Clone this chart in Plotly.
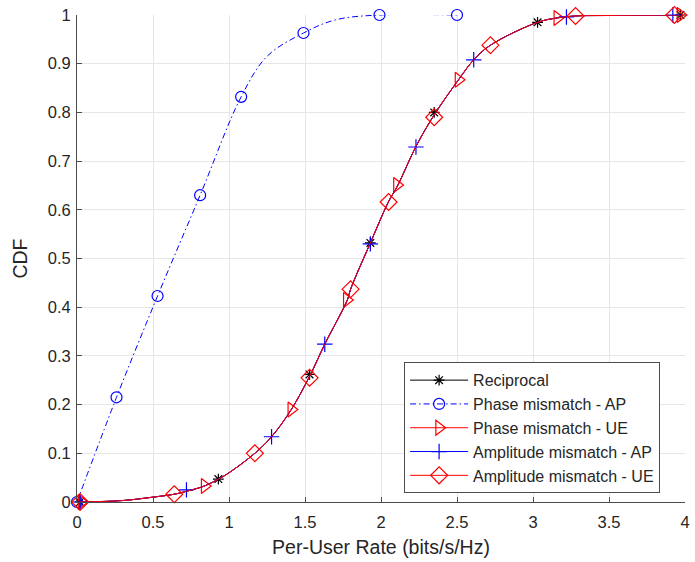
import plotly.graph_objects as go

# ---------------- data ----------------
# shared CDF curve
curve_rate = [0.02, 0.30, 0.50, 0.64, 0.72, 0.84, 0.93, 1.00, 1.17, 1.28, 1.41, 1.53,
              1.63, 1.78, 1.80, 1.93, 2.05, 2.11, 2.23, 2.35, 2.51, 2.61, 2.72, 3.03,
              3.16, 3.28, 3.50, 3.97]
curve_cdf = [0.000, 0.003, 0.010, 0.016, 0.022, 0.033, 0.047, 0.060, 0.100, 0.134, 0.190, 0.258,
             0.324, 0.416, 0.437, 0.532, 0.617, 0.650, 0.730, 0.795, 0.867, 0.908, 0.938, 0.985,
             0.994, 0.998, 0.999, 1.000]

# Phase mismatch - AP (dash-dot curve)
pap_rate = [0.00, 0.26, 0.53, 0.81, 1.08, 1.25, 1.49, 1.70, 1.99, 2.50]
pap_cdf = [0.000, 0.215, 0.423, 0.630, 0.832, 0.915, 0.963, 0.990, 1.000, 1.000]
pap_mark_rate = [0.00, 0.26, 0.53, 0.81, 1.08, 1.49, 1.99, 2.50]
pap_mark_cdf = [0.000, 0.215, 0.423, 0.630, 0.832, 0.963, 1.000, 1.000]

# markers of the other series
rec_rate = [0.02, 0.93, 1.53, 1.93, 2.35, 3.03, 3.97]
rec_cdf = [0.000, 0.047, 0.262, 0.532, 0.800, 0.985, 1.000]

pue_rate = [0.03, 0.84, 1.41, 1.775, 2.105, 2.51, 3.16, 3.97]
pue_cdf = [0.000, 0.033, 0.190, 0.415, 0.651, 0.867, 0.994, 1.000]

aap_rate = [0.02, 0.72, 1.28, 1.63, 1.93, 2.23, 2.61, 3.22, 3.92]
aap_cdf = [0.000, 0.025, 0.134, 0.324, 0.530, 0.729, 0.908, 0.996, 1.000]

aue_rate = [0.02, 0.64, 1.17, 1.53, 1.80, 2.05, 2.35, 2.72, 3.28, 3.93]
aue_cdf = [0.000, 0.016, 0.100, 0.255, 0.437, 0.616, 0.790, 0.938, 0.998, 1.000]

x_ticks = [0, 0.5, 1, 1.5, 2, 2.5, 3, 3.5, 4]
x_tick_labels = ["0", "0.5", "1", "1.5", "2", "2.5", "3", "3.5", "4"]
y_ticks = [0, 0.1, 0.2, 0.3, 0.4, 0.5, 0.6, 0.7, 0.8, 0.9, 1]
y_tick_labels = ["0", "0.1", "0.2", "0.3", "0.4", "0.5", "0.6", "0.7", "0.8", "0.9", "1"]

# ---------------- styles ----------------
series = [
    dict(name="Reciprocal", color="black", dash="solid", symbol="asterisk-open", size=9,
         lx=curve_rate, ly=curve_cdf, mx=rec_rate, my=rec_cdf),
    dict(name="Phase mismatch - AP", color="#0000ff", dash="6px,3px,1.5px,3px", symbol="circle-open", size=11,
         lx=pap_rate, ly=pap_cdf, mx=pap_mark_rate, my=pap_mark_cdf),
    dict(name="Phase mismatch - UE", color="#ff0000", dash="solid", symbol="triangle-right-open", size=13,
         lx=curve_rate, ly=curve_cdf, mx=pue_rate, my=pue_cdf),
    dict(name="Amplitude mismatch - AP", color="#0000ff", dash="solid", symbol="cross-thin-open", size=11,
         lx=curve_rate, ly=curve_cdf, mx=aap_rate, my=aap_cdf),
    dict(name="Amplitude mismatch - UE", color="#ff0000", dash="solid", symbol="diamond-open", size=13,
         lx=curve_rate, ly=curve_cdf, mx=aue_rate, my=aue_cdf),
]

fig = go.Figure()
for s in series:
    fig.add_trace(go.Scatter(x=s["lx"], y=s["ly"], mode="lines", line_shape="spline",
                             line=dict(color=s["color"], width=1, dash=s["dash"]),
                             showlegend=False, hoverinfo="skip", cliponaxis=False))
    fig.add_trace(go.Scatter(x=s["mx"], y=s["my"], mode="markers",
                             marker=dict(symbol=s["symbol"], size=s["size"],
                                         color=s["color"], line=dict(color=s["color"], width=1.2)),
                             showlegend=False, cliponaxis=False))
    fig.add_trace(go.Scatter(x=[None], y=[None], mode="lines+markers", name=s["name"],
                             line=dict(color=s["color"], width=1, dash=s["dash"]),
                             marker=dict(symbol=s["symbol"], size=s["size"],
                                         color=s["color"], line=dict(color=s["color"], width=1.2))))

axis_common = dict(showgrid=True, gridcolor="#e6e6e6", gridwidth=1, zeroline=False,
                   showline=True, linecolor="#4d4d4d", linewidth=1, automargin=False,
                   ticks="inside", ticklen=5, tickcolor="#4d4d4d",
                   tickfont=dict(family="Liberation Sans, Arial, sans-serif", size=16.5, color="#262626"))

fig.update_layout(
    width=695, height=562, autosize=False,
    margin=dict(l=77, r=10, t=15, b=60),
    paper_bgcolor="white", plot_bgcolor="white",
    font=dict(family="Liberation Sans, Arial, sans-serif", color="#262626"),
    xaxis=dict(range=[0, 4], tickvals=x_ticks, ticktext=x_tick_labels, ticklabelstandoff=5,
               title=dict(text="Per-User Rate (bits/s/Hz)", font=dict(size=19.5), standoff=10),
               **axis_common),
    yaxis=dict(range=[0, 1], tickvals=y_ticks, ticktext=y_tick_labels, ticklabelstandoff=2,
               title=dict(text="CDF", font=dict(size=19.5), standoff=14),
               **axis_common),
    legend=dict(x=0.538, y=0.287, xanchor="left", yanchor="top",
                bgcolor="white", bordercolor="#4d4d4d", borderwidth=1,
                font=dict(size=16, color="#262626"), itemwidth=58, tracegroupgap=0),
    showlegend=True,
)

fig.write_html("out.html")
